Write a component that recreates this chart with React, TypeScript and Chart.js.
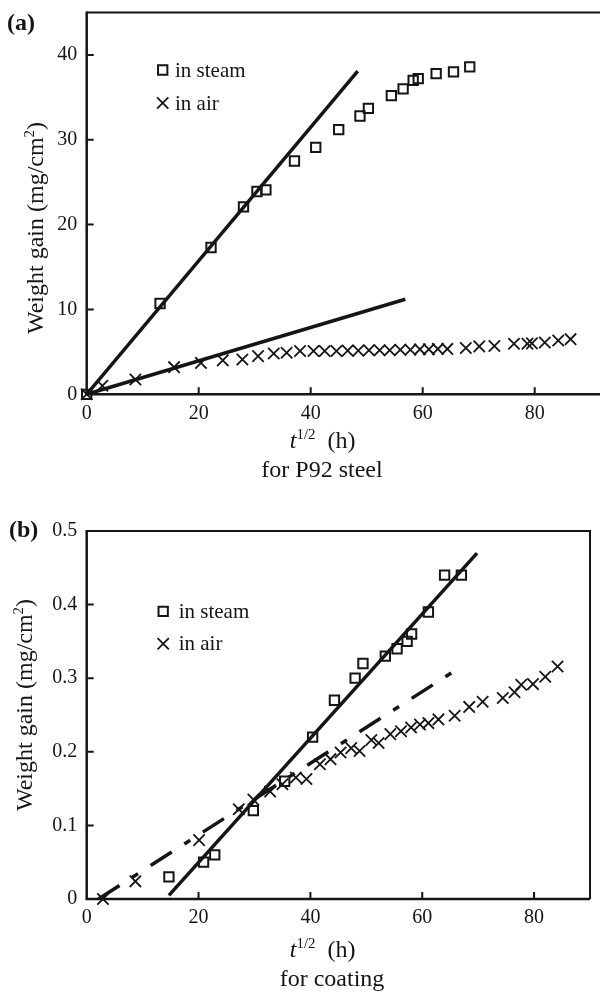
import React, { useEffect, useRef } from "react";
import { Chart, registerables } from "chart.js";

Chart.register(...registerables);

const INK = "#151515";
const FONT = "'Liberation Serif', 'Times New Roman', serif";

// ---------- panel (a): P92 steel ----------
const steelSteamX = [0, 13.1, 22.2, 28.0, 30.4, 32.0, 37.1, 40.9, 45.0, 48.8, 50.3, 54.4, 56.5, 58.3, 59.2, 62.4, 65.5, 68.4];
const steelSteamY = [0, 10.7, 17.3, 22.1, 23.9, 24.1, 27.5, 29.1, 31.2, 32.8, 33.7, 35.2, 36.0, 37.0, 37.2, 37.8, 38.0, 38.6];
const steelAirX = [0, 2.8, 8.7, 15.6, 20.4, 24.3, 27.8, 30.6, 33.4, 35.7, 38.1, 40.5, 42.5, 44.6, 46.6, 48.5, 50.4, 52.3, 54.1, 56.0, 57.8, 59.5, 61.1, 62.7, 64.4, 67.7, 70.1, 72.8, 76.3, 78.7, 79.5, 81.8, 84.2, 86.4];
const steelAirY = [0, 1.0, 1.75, 3.2, 3.7, 4.0, 4.1, 4.5, 4.8, 4.9, 5.1, 5.1, 5.1, 5.1, 5.15, 5.15, 5.2, 5.2, 5.2, 5.25, 5.25, 5.3, 5.3, 5.35, 5.35, 5.45, 5.65, 5.7, 5.95, 5.95, 6.0, 6.1, 6.35, 6.5];
const steelSteamFitX = [0, 48.4];
const steelSteamFitY = [0, 38.1];
const steelAirFitX = [0, 56.9];
const steelAirFitY = [0, 11.2];
const steelXTicks = [0, 20, 40, 60, 80];
const steelYTicks = [0, 10, 20, 30, 40];
const steelYTickLabels = ["0", "10", "20", "30", "40"];

// ---------- panel (b): coating ----------
const coatSteamX = [14.7, 20.9, 22.9, 29.8, 35.4, 40.4, 44.3, 48.0, 49.4, 53.4, 55.5, 57.3, 58.1, 61.1, 64.0, 67.0];
const coatSteamY = [0.03, 0.05, 0.06, 0.12, 0.16, 0.22, 0.27, 0.30, 0.32, 0.33, 0.34, 0.35, 0.36, 0.39, 0.44, 0.44];
const coatAirX = [2.9, 8.7, 20.1, 27.2, 29.8, 32.8, 35.0, 37.4, 39.3, 41.7, 43.6, 45.4, 47.3, 48.8, 50.9, 52.2, 54.3, 56.2, 58.0, 59.6, 61.1, 62.9, 65.8, 68.4, 70.8, 74.4, 76.5, 77.7, 79.8, 82.0, 84.2];
const coatAirY = [0, 0.024, 0.08, 0.122, 0.135, 0.146, 0.156, 0.165, 0.163, 0.183, 0.19, 0.199, 0.205, 0.201, 0.216, 0.212, 0.224, 0.228, 0.233, 0.237, 0.239, 0.244, 0.249, 0.261, 0.268, 0.273, 0.281, 0.291, 0.292, 0.302, 0.316];
const coatSteamFitX = [14.7, 69.8];
const coatSteamFitY = [0.005, 0.47];
const coatAirFitX = [2.1, 65.8];
const coatAirFitY = [0, 0.31];
const coatXTicks = [0, 20, 40, 60, 80];
const coatYTicks = [0, 0.1, 0.2, 0.3, 0.4, 0.5];
const coatYTickLabels = ["0", "0.1", "0.2", "0.3", "0.4", "0.5"];

const seriesLabels = ["in steam", "in air"];

const pts = (xs: number[], ys: number[]) => xs.map((x, i) => ({ x, y: ys[i] }));

const framePlugin = {
  id: "frame",
  afterDatasetsDraw(chart: any, _args: any, opts: any) {
    const { ctx, chartArea: a, scales } = chart;
    const xs = scales.x;
    const ys = scales.y;
    ctx.save();
    ctx.strokeStyle = INK;
    ctx.lineCap = "butt";
    ctx.lineWidth = 2;
    ctx.beginPath();
    ctx.moveTo(a.left, a.top);
    ctx.lineTo(a.right, a.top);
    if (opts.right) ctx.lineTo(a.right, a.bottom);
    ctx.stroke();
    ctx.lineWidth = 2.5;
    ctx.beginPath();
    ctx.moveTo(a.left, a.top - 1);
    ctx.lineTo(a.left, a.bottom);
    ctx.lineTo(a.right, a.bottom);
    ctx.stroke();
    ctx.lineWidth = 2;
    ctx.beginPath();
    xs.ticks.forEach((t: any) => {
      const p = xs.getPixelForValue(t.value);
      if (p > a.left + 2) {
        ctx.moveTo(p, a.bottom);
        ctx.lineTo(p, a.bottom - 7);
      }
    });
    ys.ticks.forEach((t: any) => {
      const p = ys.getPixelForValue(t.value);
      if (p < a.bottom - 2 && p > a.top + 2) {
        ctx.moveTo(a.left, p);
        ctx.lineTo(a.left + 7, p);
      }
    });
    ctx.stroke();

    // legend inside the plot
    const lg = opts.legend;
    let row = 0;
    chart.data.datasets.forEach((ds: any) => {
      if (!ds.label) return;
      const cy = lg.y + row * lg.dy;
      const cx = lg.x;
      ctx.lineWidth = ds.pointBorderWidth;
      ctx.beginPath();
      const s = ds.pointRadius * Math.SQRT1_2;
      if (ds.pointStyle === "rect") {
        ctx.rect(cx - s, cy - s, 2 * s, 2 * s);
      } else {
        ctx.moveTo(cx - s, cy - s);
        ctx.lineTo(cx + s, cy + s);
        ctx.moveTo(cx - s, cy + s);
        ctx.lineTo(cx + s, cy - s);
      }
      ctx.stroke();
      ctx.fillStyle = INK;
      ctx.font = `${lg.size}px ${FONT}`;
      ctx.textAlign = "left";
      ctx.textBaseline = "middle";
      ctx.fillText(ds.label, lg.textX, cy + 1);
      row++;
    });
    ctx.restore();
  },
};

function buildConfig(p: any) {
  return {
    type: "scatter",
    data: {
      datasets: [
        {
          label: "",
          data: pts(p.fit1X, p.fit1Y),
          showLine: true,
          borderColor: INK,
          borderWidth: 3.5,
          pointRadius: 0,
          borderCapStyle: "butt",
        },
        {
          label: "",
          data: pts(p.fit2X, p.fit2Y),
          showLine: true,
          borderColor: INK,
          borderWidth: 3.5,
          pointRadius: 0,
          borderCapStyle: "butt",
          borderDash: p.dash || [],
        },
        {
          label: seriesLabels[0],
          data: pts(p.steamX, p.steamY),
          pointStyle: "rect",
          pointRadius: 6.6,
          pointBorderWidth: 2,
          borderColor: INK,
          pointBorderColor: INK,
          pointBackgroundColor: "rgba(0,0,0,0)",
          backgroundColor: "rgba(0,0,0,0)",
          clip: false,
        },
        {
          label: seriesLabels[1],
          data: pts(p.airX, p.airY),
          pointStyle: "crossRot",
          pointRadius: 8,
          pointBorderWidth: 1.8,
          borderColor: INK,
          pointBorderColor: INK,
          pointBackgroundColor: "rgba(0,0,0,0)",
          clip: false,
        },
      ],
    },
    options: {
      responsive: false,
      animation: false,
      devicePixelRatio: 1,
      events: [],
      layout: { autoPadding: false, padding: { top: p.padTop, right: p.padRight, left: 0, bottom: 0 } },
      plugins: {
        legend: { display: false },
        tooltip: { enabled: false },
        frame: { right: p.rightBorder, legend: p.legend },
      },
      scales: {
        x: {
          type: "linear",
          min: 0,
          max: p.xMax,
          grid: { display: false, drawTicks: false },
          border: { display: false },
          afterBuildTicks: (s: any) => {
            s.ticks = p.xTicks.map((v: number) => ({ value: v }));
          },
          afterFit: (s: any) => {
            s.height = p.xHeight;
            s.paddingLeft = 0;
            s.paddingRight = 0;
          },
          ticks: {
            autoSkip: false,
            maxRotation: 0,
            padding: 7,
            color: INK,
            font: { family: FONT, size: 20 },
            callback: (v: number) => String(v),
          },
        },
        y: {
          type: "linear",
          min: 0,
          max: p.yMax,
          grid: { display: false, drawTicks: false },
          border: { display: false },
          afterBuildTicks: (s: any) => {
            s.ticks = p.yTicks.map((v: number) => ({ value: v }));
          },
          afterFit: (s: any) => {
            s.width = 86.7;
            s.paddingTop = 0;
            s.paddingBottom = 0;
          },
          ticks: {
            autoSkip: false,
            padding: 9.5,
            color: INK,
            font: { family: FONT, size: 20 },
            callback: (_v: number, i: number) => p.yLabels[i],
          },
        },
      },
    },
    plugins: [framePlugin],
  };
}

const panelA = {
  steamX: steelSteamX, steamY: steelSteamY, airX: steelAirX, airY: steelAirY,
  fit1X: steelSteamFitX, fit1Y: steelSteamFitY, fit2X: steelAirFitX, fit2Y: steelAirFitY,
  xTicks: steelXTicks, yTicks: steelYTicks, yLabels: steelYTickLabels,
  xMax: 91.66, yMax: 45, padTop: 12.5, padRight: 0, xHeight: 490 - 394.3,
  rightBorder: false,
  legend: { x: 162.7, y: 70, dy: 33, textX: 175, size: 21 },
};

const panelB = {
  steamX: coatSteamX, steamY: coatSteamY, airX: coatAirX, airY: coatAirY,
  fit1X: coatSteamFitX, fit1Y: coatSteamFitY, fit2X: coatAirFitX, fit2Y: coatAirFitY,
  dash: [25, 15, 7, 15],
  xTicks: coatXTicks, yTicks: coatYTicks, yLabels: coatYTickLabels,
  xMax: 90, yMax: 0.5, padTop: 31, padRight: 10, xHeight: 993 - 899,
  rightBorder: true,
  legend: { x: 163.2, y: 611.3 - 500, dy: 32.4, textX: 178.7, size: 21 },
};

const abs = (style: any) => ({ position: "absolute" as const, whiteSpace: "nowrap" as const, lineHeight: 1, ...style });

function XTitle({ cx, top }: { cx: number; top: number }) {
  return (
    <div style={abs({ left: cx, top, fontSize: 24, transform: "translateX(-50%)" })}>
      <i>t</i>
      <span style={{ fontSize: "0.62em", position: "relative", top: "-0.6em" }}>1/2</span>
      {"\u00a0 (h)"}
    </div>
  );
}

function YTitle({ cx, cy }: { cx: number; cy: number }) {
  return (
    <div style={abs({ left: cx, top: cy, fontSize: 24, transform: "translate(-50%, -50%) rotate(-90deg)" })}>
      Weight gain (mg/cm
      <span style={{ fontSize: "0.62em", position: "relative", top: "-0.6em" }}>2</span>)
    </div>
  );
}

export default function App() {
  const refA = useRef<HTMLCanvasElement | null>(null);
  const refB = useRef<HTMLCanvasElement | null>(null);

  useEffect(() => {
    const a = new Chart(refA.current as HTMLCanvasElement, buildConfig(panelA) as any);
    const b = new Chart(refB.current as HTMLCanvasElement, buildConfig(panelB) as any);
    return () => {
      a.destroy();
      b.destroy();
    };
  }, []);

  return (
    <div style={{ position: "absolute", left: 0, top: 0, width: 600, height: 993, overflow: "hidden", background: "#fff", fontFamily: FONT, color: INK }}>
      <canvas ref={refA} width={600} height={490} style={{ position: "absolute", left: 0, top: 0, display: "block" }} />
      <canvas ref={refB} width={600} height={493} style={{ position: "absolute", left: 0, top: 500, display: "block" }} />

      <div style={abs({ left: 7, top: 9.8, fontSize: 24, fontWeight: "bold" })}>(a)</div>
      <YTitle cx={35} cy={228} />
      <XTitle cx={322.7} top={428} />
      <div style={abs({ left: 322, top: 456.9, fontSize: 24, transform: "translateX(-50%)" })}>for P92 steel</div>

      <div style={abs({ left: 9, top: 516.5, fontSize: 24, fontWeight: "bold" })}>(b)</div>
      <YTitle cx={23.6} cy={705} />
      <XTitle cx={322.7} top={936.9} />
      <div style={abs({ left: 332, top: 966.4, fontSize: 24, transform: "translateX(-50%)" })}>for coating</div>
    </div>
  );
}
